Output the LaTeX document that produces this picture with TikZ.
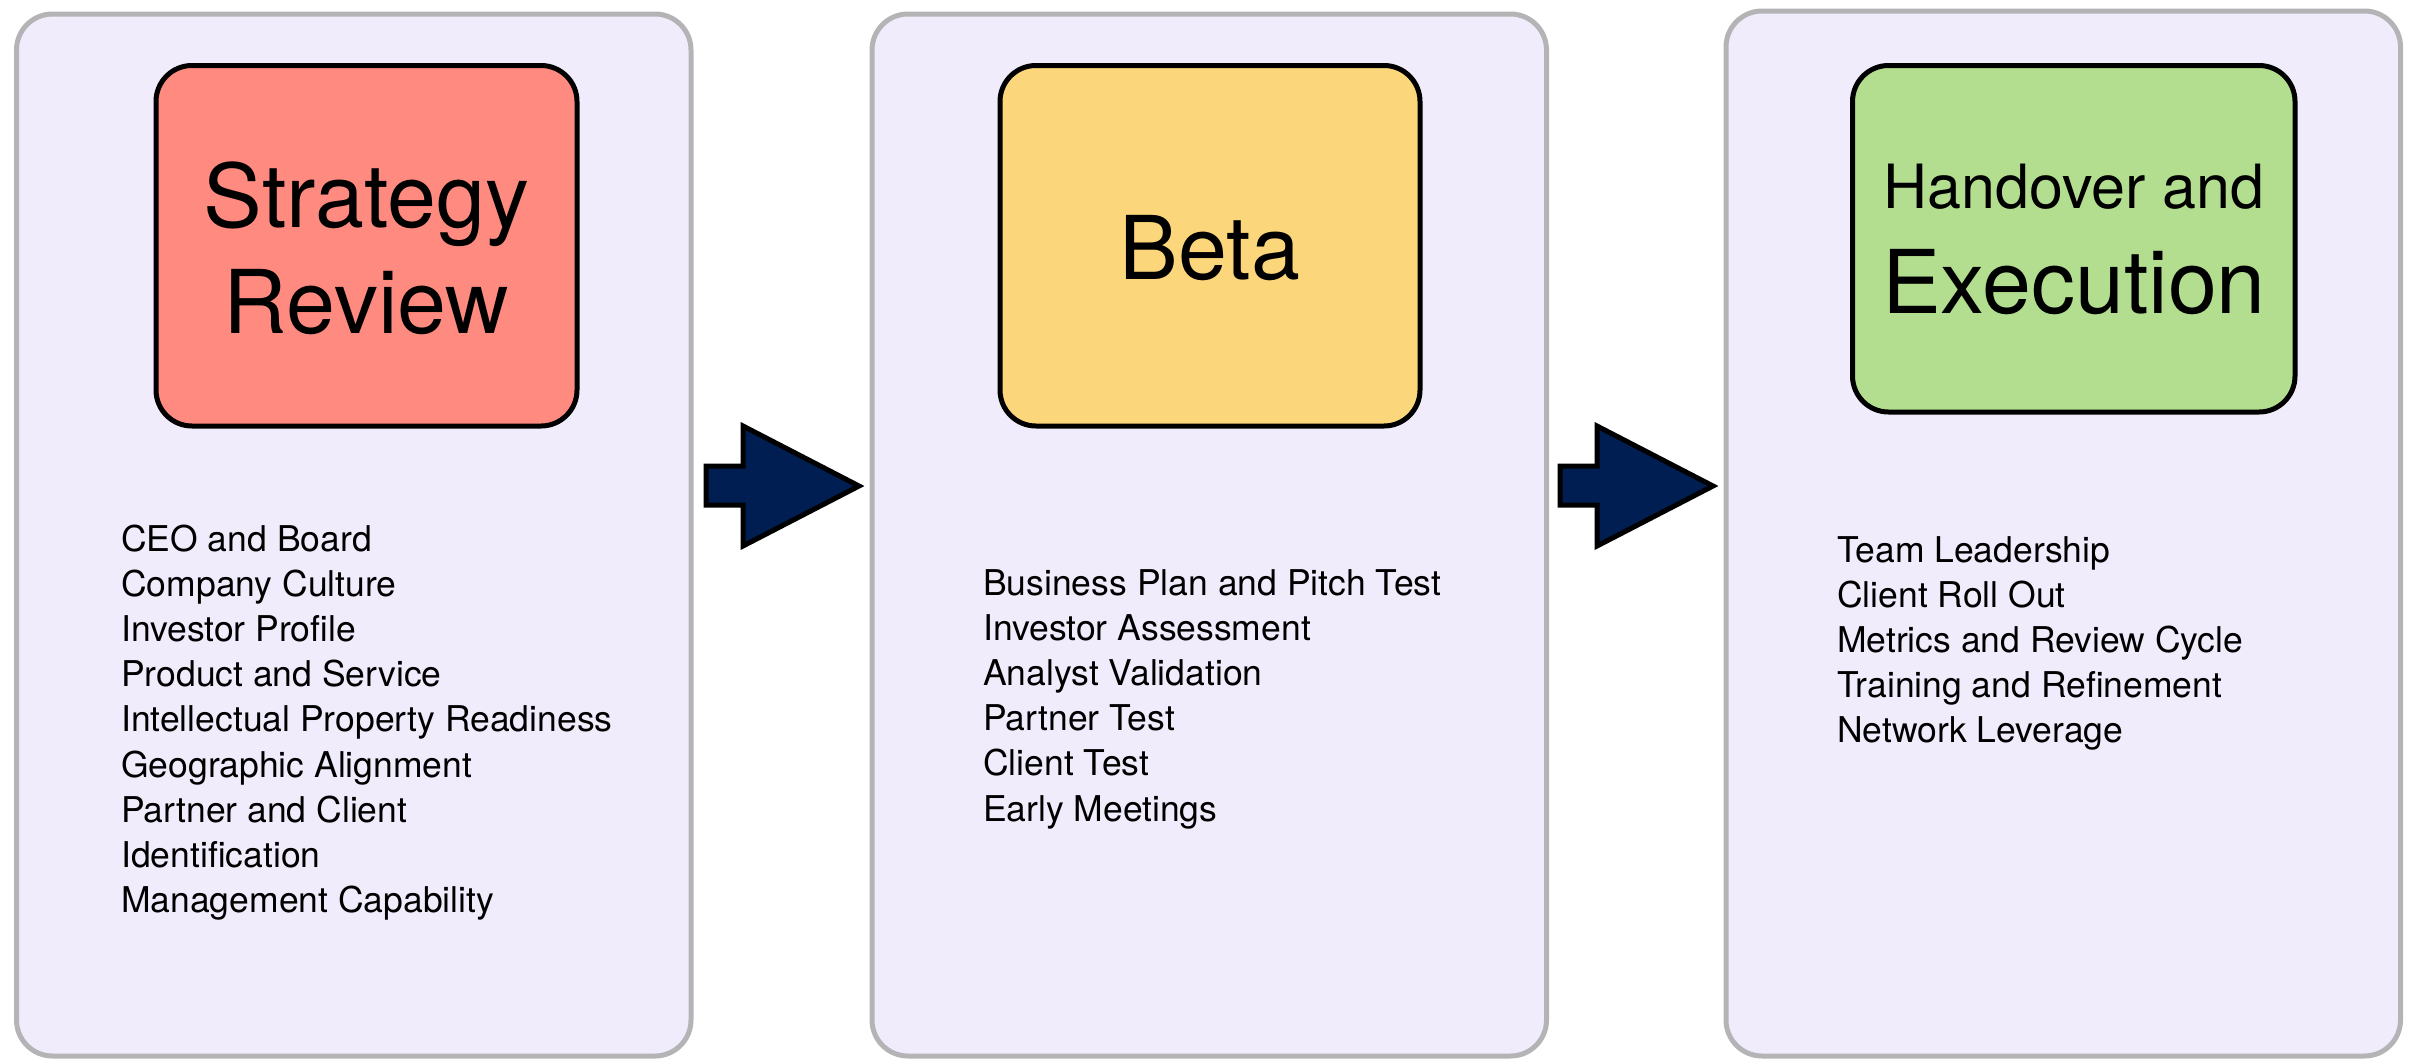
\documentclass[tikz,border=0pt]{standalone}
\usepackage{fontspec}
\setmainfont{TeX Gyre Heros}
\definecolor{panelfill}{RGB}{240,236,252}
\definecolor{panelgray}{RGB}{180,180,182}
\definecolor{stagered}{RGB}{255,139,128}
\definecolor{stageyellow}{RGB}{252,214,123}
\definecolor{stagegreen}{RGB}{179,222,143}
\definecolor{arrownavy}{RGB}{0,30,82}
\begin{document}
\begin{tikzpicture}[x=1pt,y=-1pt,
  panel/.style={draw=panelgray, line width=5pt, fill=panelfill, rounded corners=36pt,
    anchor=north west, outer sep=0pt, inner sep=0pt},
  stagebox/.style={draw=black, line width=5pt, rounded corners=36pt,
    anchor=north west, outer sep=0pt, inner sep=0pt},
  blockarrow/.style={draw=black, line width=5pt, fill=arrownavy, line join=miter},
  bigtitle/.style={anchor=base, inner sep=0pt, font=\fontsize{88}{100}\selectfont},
  smalltitle/.style={anchor=base, inner sep=0pt, font=\fontsize{61}{70}\selectfont},
  item/.style={anchor=base west, inner sep=0pt, font=\fontsize{35.5}{45}\selectfont}]
\useasboundingbox (0,0) rectangle (2416,1058);

% phase panels
\node[panel, minimum width=674.5pt, minimum height=1042pt] (p1) at (16.5,14) {};
\node[panel, minimum width=674.5pt, minimum height=1042pt] (p2) at (872,14) {};
\node[panel, minimum width=674.5pt, minimum height=1045pt] (p3) at (1726,11) {};

% stage headings
\node[stagebox, fill=stagered, minimum width=421pt, minimum height=360.5pt] (b1) at (156,65.5) {};
\node[stagebox, fill=stageyellow, minimum width=420pt, minimum height=360.5pt] (b2) at (1000,65.5) {};
\node[stagebox, fill=stagegreen, minimum width=442.5pt, minimum height=346.5pt] (b3) at (1852.5,65.5) {};

\node[bigtitle] (t1a) at (366.5,227) {Strategy};
\node[bigtitle] (t1b) at (366.5,333) {Review};
\node[bigtitle] (t2) at (1210,279) {Beta};
\node[smalltitle] (t3a) at (2074,208) {Handover and};
\node[bigtitle] (t3b) at (2074,313) {Execution};

% block arrows between the phases
\draw[blockarrow] (706,466) -- (743,466) -- (743,426) -- (859,486) -- (743,546)
  -- (743,505) -- (706,505) -- cycle;
\draw[blockarrow] (1560,466) -- (1597,466) -- (1597,426) -- (1713,486) -- (1597,546)
  -- (1597,505) -- (1560,505) -- cycle;

% activity lists
\foreach \t [count=\i] in {CEO and Board, Company Culture, Investor Profile,
  Product and Service, Intellectual Property Readiness, Geographic Alignment,
  Partner and Client, Identification, Management Capability}
  \node[item] (l1-\i) at (121,{551+45.2*(\i-1)}) {\t};

\foreach \t [count=\i] in {Business Plan and Pitch Test, Investor Assessment,
  Analyst Validation, Partner Test, Client Test, Early Meetings}
  \node[item] (l2-\i) at (983,{595+45.2*(\i-1)}) {\t};

\foreach \t [count=\i] in {Team Leadership, Client Roll Out, Metrics and Review Cycle,
  Training and Refinement, Network Leverage}
  \node[item] (l3-\i) at (1837,{562+45.2*(\i-1)}) {\t};
\end{tikzpicture}
\end{document}
